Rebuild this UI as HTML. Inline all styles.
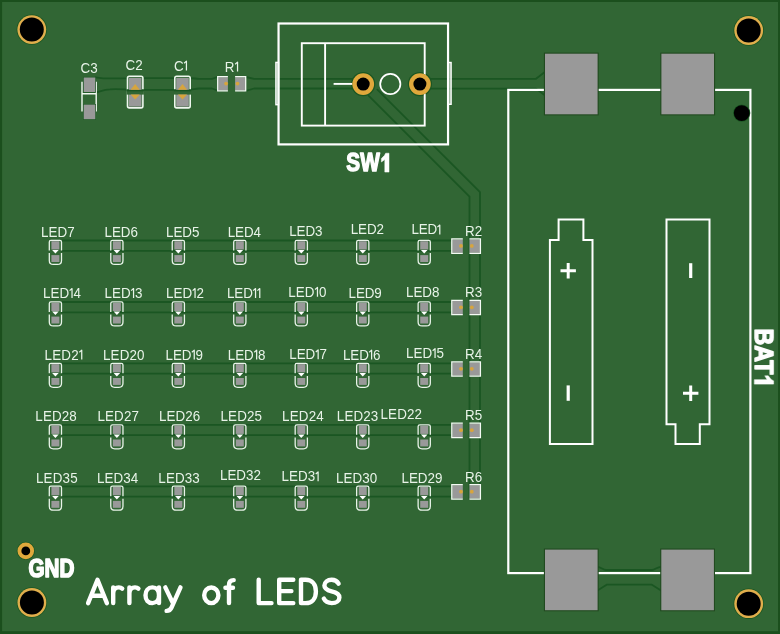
<!DOCTYPE html>
<html><head><meta charset="utf-8"><title>Array of LEDS PCB</title>
<style>
html,body{margin:0;padding:0;background:#1b4f1d;}
body{width:780px;height:634px;overflow:hidden;font-family:"Liberation Sans",sans-serif;}
svg{display:block;}
</style></head><body>
<svg width="780" height="634" viewBox="0 0 780 634">
<rect x="0" y="0" width="780" height="634" fill="#1b4f1d"/>
<rect x="2.1" y="2" width="775.9" height="629.2" fill="#316634"/>
<g fill="none" stroke="#1a5622" stroke-width="1.8" stroke-linecap="round" stroke-linejoin="round">
<path d="M95.5,77.3 C99,77.6 102,78.4 106,78.4 H127.5 M143,78.2 H174.5 M190.5,78.2 C194,78.2 196,78.8 199,78.8 H212 L217.5,77 M246,77 L254,78.8 H353"/>
<path d="M96.3,92.3 C100,91.5 104,89.6 110,89.3 C116,88.6 122,89.3 127.5,89.6 M143,89.8 H174.5 M190.5,89.6 C194,89.2 196,88.5 199,88.5 H212 L217.5,90.5 M246,90.8 L254,88.5 H353"/>
<path d="M430,78.8 H536 L544.5,72.3"/>
<path d="M430,88.6 H536 L544.5,95"/>
<path d="M368.8,95.9 L469.5,196.6 V499"/>
<path d="M377.4,89.6 L480.0,192.2 V499"/>
<path d="M597.5,566.8 C601,567 603,570 606,570 H652 C655,570 657,567 661,566.8"/>
<path d="M597.5,590.5 L607,584.6 H651.5 L661,590.5"/>
<path d="M62,240.5 H451.5"/>
<path d="M62,250.8 H451.5"/>
<path d="M62,302.0 H451.5"/>
<path d="M62,312.3 H451.5"/>
<path d="M62,363.4 H451.5"/>
<path d="M62,373.7 H451.5"/>
<path d="M62,424.9 H451.5"/>
<path d="M62,435.2 H451.5"/>
<path d="M62,486.3 H451.5"/>
<path d="M62,496.6 H451.5"/>
</g>
<circle cx="363.20" cy="84.10" r="12.10" fill="#1a5622"/>
<circle cx="419.90" cy="84.10" r="12.10" fill="#1a5622"/>
<g fill="none" stroke="#ffffff">
<rect x="278.55" y="23.5" width="169.5" height="120.9" stroke-width="2.2"/>
<rect x="301.8" y="43.2" width="122.9" height="82.4" stroke-width="1.9"/>
<path d="M325.1,43.2 V125.6" stroke-width="1.9"/>
<rect x="275.9" y="62.4" width="2.6" height="42.3" fill="#fff" fill-opacity="0.45" stroke-width="1.4"/>
<rect x="448.1" y="62.5" width="3.0" height="41.8" fill="#fff" fill-opacity="0.45" stroke-width="1.4"/>
<path d="M333.6,83.9 H354" stroke-width="1.9"/>
<circle cx="390.3" cy="84.0" r="10.1" stroke-width="1.7"/>
<rect x="508.3" y="89.9" width="242.1" height="483.2" stroke-width="2.2"/>
<path d="M558.6,219.4 H583.4 V240.1 H592.5 V444.1 H549.9 V240.1 H558.6 Z" stroke-width="2.0"/>
<path d="M666.5,219.4 H709.5 V424.2 H699.8 V444.1 H675.5 V424.2 H666.5 Z" stroke-width="2.0"/>
<path d="M560.5,270.8 H575.9 M568.2,263.1 V278.5" stroke-width="3"/>
<path d="M690.7,263.2 V278" stroke-width="3.2"/>
<path d="M568.2,385.4 V400.8" stroke-width="3.2"/>
<path d="M683,393.3 H698.4 M690.7,385.6 V401" stroke-width="3"/>
</g>
<path d="M49.30,250.40 V242.00 Q49.30,240.40 50.90,240.40 H59.90 Q61.50,240.40 61.50,242.00 V250.40" fill="none" stroke="#e9f4e9" stroke-width="1.3"/>
<path d="M49.30,253.00 V260.40 Q49.30,264.40 53.30,264.40 H57.50 Q61.50,264.40 61.50,260.40 V253.00" fill="none" stroke="#e9f4e9" stroke-width="1.3"/>
<rect x="51.40" y="241.20" width="8.0" height="8.3" fill="#999999"/>
<rect x="51.40" y="255.10" width="8.0" height="6.9" fill="#999999"/>
<path d="M52.10,250.10 H58.70 L55.40,253.60 Z" fill="#ffffff"/>
<path d="M110.77,250.40 V242.00 Q110.77,240.40 112.37,240.40 H121.37 Q122.97,240.40 122.97,242.00 V250.40" fill="none" stroke="#e9f4e9" stroke-width="1.3"/>
<path d="M110.77,253.00 V260.40 Q110.77,264.40 114.77,264.40 H118.97 Q122.97,264.40 122.97,260.40 V253.00" fill="none" stroke="#e9f4e9" stroke-width="1.3"/>
<rect x="112.87" y="241.20" width="8.0" height="8.3" fill="#999999"/>
<rect x="112.87" y="255.10" width="8.0" height="6.9" fill="#999999"/>
<path d="M113.57,250.10 H120.17 L116.87,253.60 Z" fill="#ffffff"/>
<path d="M172.24,250.40 V242.00 Q172.24,240.40 173.84,240.40 H182.84 Q184.44,240.40 184.44,242.00 V250.40" fill="none" stroke="#e9f4e9" stroke-width="1.3"/>
<path d="M172.24,253.00 V260.40 Q172.24,264.40 176.24,264.40 H180.44 Q184.44,264.40 184.44,260.40 V253.00" fill="none" stroke="#e9f4e9" stroke-width="1.3"/>
<rect x="174.34" y="241.20" width="8.0" height="8.3" fill="#999999"/>
<rect x="174.34" y="255.10" width="8.0" height="6.9" fill="#999999"/>
<path d="M175.04,250.10 H181.64 L178.34,253.60 Z" fill="#ffffff"/>
<path d="M233.71,250.40 V242.00 Q233.71,240.40 235.31,240.40 H244.31 Q245.91,240.40 245.91,242.00 V250.40" fill="none" stroke="#e9f4e9" stroke-width="1.3"/>
<path d="M233.71,253.00 V260.40 Q233.71,264.40 237.71,264.40 H241.91 Q245.91,264.40 245.91,260.40 V253.00" fill="none" stroke="#e9f4e9" stroke-width="1.3"/>
<rect x="235.81" y="241.20" width="8.0" height="8.3" fill="#999999"/>
<rect x="235.81" y="255.10" width="8.0" height="6.9" fill="#999999"/>
<path d="M236.51,250.10 H243.11 L239.81,253.60 Z" fill="#ffffff"/>
<path d="M295.18,250.40 V242.00 Q295.18,240.40 296.78,240.40 H305.78 Q307.38,240.40 307.38,242.00 V250.40" fill="none" stroke="#e9f4e9" stroke-width="1.3"/>
<path d="M295.18,253.00 V260.40 Q295.18,264.40 299.18,264.40 H303.38 Q307.38,264.40 307.38,260.40 V253.00" fill="none" stroke="#e9f4e9" stroke-width="1.3"/>
<rect x="297.28" y="241.20" width="8.0" height="8.3" fill="#999999"/>
<rect x="297.28" y="255.10" width="8.0" height="6.9" fill="#999999"/>
<path d="M297.98,250.10 H304.58 L301.28,253.60 Z" fill="#ffffff"/>
<path d="M356.65,250.40 V242.00 Q356.65,240.40 358.25,240.40 H367.25 Q368.85,240.40 368.85,242.00 V250.40" fill="none" stroke="#e9f4e9" stroke-width="1.3"/>
<path d="M356.65,253.00 V260.40 Q356.65,264.40 360.65,264.40 H364.85 Q368.85,264.40 368.85,260.40 V253.00" fill="none" stroke="#e9f4e9" stroke-width="1.3"/>
<rect x="358.75" y="241.20" width="8.0" height="8.3" fill="#999999"/>
<rect x="358.75" y="255.10" width="8.0" height="6.9" fill="#999999"/>
<path d="M359.45,250.10 H366.05 L362.75,253.60 Z" fill="#ffffff"/>
<path d="M418.12,250.40 V242.00 Q418.12,240.40 419.72,240.40 H428.72 Q430.32,240.40 430.32,242.00 V250.40" fill="none" stroke="#e9f4e9" stroke-width="1.3"/>
<path d="M418.12,253.00 V260.40 Q418.12,264.40 422.12,264.40 H426.32 Q430.32,264.40 430.32,260.40 V253.00" fill="none" stroke="#e9f4e9" stroke-width="1.3"/>
<rect x="420.22" y="241.20" width="8.0" height="8.3" fill="#999999"/>
<rect x="420.22" y="255.10" width="8.0" height="6.9" fill="#999999"/>
<path d="M420.92,250.10 H427.52 L424.22,253.60 Z" fill="#ffffff"/>
<path d="M49.30,311.90 V303.50 Q49.30,301.90 50.90,301.90 H59.90 Q61.50,301.90 61.50,303.50 V311.90" fill="none" stroke="#e9f4e9" stroke-width="1.3"/>
<path d="M49.30,314.50 V321.90 Q49.30,325.90 53.30,325.90 H57.50 Q61.50,325.90 61.50,321.90 V314.50" fill="none" stroke="#e9f4e9" stroke-width="1.3"/>
<rect x="51.40" y="302.70" width="8.0" height="8.3" fill="#999999"/>
<rect x="51.40" y="316.60" width="8.0" height="6.9" fill="#999999"/>
<path d="M52.10,311.60 H58.70 L55.40,315.10 Z" fill="#ffffff"/>
<path d="M110.77,311.90 V303.50 Q110.77,301.90 112.37,301.90 H121.37 Q122.97,301.90 122.97,303.50 V311.90" fill="none" stroke="#e9f4e9" stroke-width="1.3"/>
<path d="M110.77,314.50 V321.90 Q110.77,325.90 114.77,325.90 H118.97 Q122.97,325.90 122.97,321.90 V314.50" fill="none" stroke="#e9f4e9" stroke-width="1.3"/>
<rect x="112.87" y="302.70" width="8.0" height="8.3" fill="#999999"/>
<rect x="112.87" y="316.60" width="8.0" height="6.9" fill="#999999"/>
<path d="M113.57,311.60 H120.17 L116.87,315.10 Z" fill="#ffffff"/>
<path d="M172.24,311.90 V303.50 Q172.24,301.90 173.84,301.90 H182.84 Q184.44,301.90 184.44,303.50 V311.90" fill="none" stroke="#e9f4e9" stroke-width="1.3"/>
<path d="M172.24,314.50 V321.90 Q172.24,325.90 176.24,325.90 H180.44 Q184.44,325.90 184.44,321.90 V314.50" fill="none" stroke="#e9f4e9" stroke-width="1.3"/>
<rect x="174.34" y="302.70" width="8.0" height="8.3" fill="#999999"/>
<rect x="174.34" y="316.60" width="8.0" height="6.9" fill="#999999"/>
<path d="M175.04,311.60 H181.64 L178.34,315.10 Z" fill="#ffffff"/>
<path d="M233.71,311.90 V303.50 Q233.71,301.90 235.31,301.90 H244.31 Q245.91,301.90 245.91,303.50 V311.90" fill="none" stroke="#e9f4e9" stroke-width="1.3"/>
<path d="M233.71,314.50 V321.90 Q233.71,325.90 237.71,325.90 H241.91 Q245.91,325.90 245.91,321.90 V314.50" fill="none" stroke="#e9f4e9" stroke-width="1.3"/>
<rect x="235.81" y="302.70" width="8.0" height="8.3" fill="#999999"/>
<rect x="235.81" y="316.60" width="8.0" height="6.9" fill="#999999"/>
<path d="M236.51,311.60 H243.11 L239.81,315.10 Z" fill="#ffffff"/>
<path d="M295.18,311.90 V303.50 Q295.18,301.90 296.78,301.90 H305.78 Q307.38,301.90 307.38,303.50 V311.90" fill="none" stroke="#e9f4e9" stroke-width="1.3"/>
<path d="M295.18,314.50 V321.90 Q295.18,325.90 299.18,325.90 H303.38 Q307.38,325.90 307.38,321.90 V314.50" fill="none" stroke="#e9f4e9" stroke-width="1.3"/>
<rect x="297.28" y="302.70" width="8.0" height="8.3" fill="#999999"/>
<rect x="297.28" y="316.60" width="8.0" height="6.9" fill="#999999"/>
<path d="M297.98,311.60 H304.58 L301.28,315.10 Z" fill="#ffffff"/>
<path d="M356.65,311.90 V303.50 Q356.65,301.90 358.25,301.90 H367.25 Q368.85,301.90 368.85,303.50 V311.90" fill="none" stroke="#e9f4e9" stroke-width="1.3"/>
<path d="M356.65,314.50 V321.90 Q356.65,325.90 360.65,325.90 H364.85 Q368.85,325.90 368.85,321.90 V314.50" fill="none" stroke="#e9f4e9" stroke-width="1.3"/>
<rect x="358.75" y="302.70" width="8.0" height="8.3" fill="#999999"/>
<rect x="358.75" y="316.60" width="8.0" height="6.9" fill="#999999"/>
<path d="M359.45,311.60 H366.05 L362.75,315.10 Z" fill="#ffffff"/>
<path d="M418.12,311.90 V303.50 Q418.12,301.90 419.72,301.90 H428.72 Q430.32,301.90 430.32,303.50 V311.90" fill="none" stroke="#e9f4e9" stroke-width="1.3"/>
<path d="M418.12,314.50 V321.90 Q418.12,325.90 422.12,325.90 H426.32 Q430.32,325.90 430.32,321.90 V314.50" fill="none" stroke="#e9f4e9" stroke-width="1.3"/>
<rect x="420.22" y="302.70" width="8.0" height="8.3" fill="#999999"/>
<rect x="420.22" y="316.60" width="8.0" height="6.9" fill="#999999"/>
<path d="M420.92,311.60 H427.52 L424.22,315.10 Z" fill="#ffffff"/>
<path d="M49.30,373.30 V364.90 Q49.30,363.30 50.90,363.30 H59.90 Q61.50,363.30 61.50,364.90 V373.30" fill="none" stroke="#e9f4e9" stroke-width="1.3"/>
<path d="M49.30,375.90 V383.30 Q49.30,387.30 53.30,387.30 H57.50 Q61.50,387.30 61.50,383.30 V375.90" fill="none" stroke="#e9f4e9" stroke-width="1.3"/>
<rect x="51.40" y="364.10" width="8.0" height="8.3" fill="#999999"/>
<rect x="51.40" y="378.00" width="8.0" height="6.9" fill="#999999"/>
<path d="M52.10,373.00 H58.70 L55.40,376.50 Z" fill="#ffffff"/>
<path d="M110.77,373.30 V364.90 Q110.77,363.30 112.37,363.30 H121.37 Q122.97,363.30 122.97,364.90 V373.30" fill="none" stroke="#e9f4e9" stroke-width="1.3"/>
<path d="M110.77,375.90 V383.30 Q110.77,387.30 114.77,387.30 H118.97 Q122.97,387.30 122.97,383.30 V375.90" fill="none" stroke="#e9f4e9" stroke-width="1.3"/>
<rect x="112.87" y="364.10" width="8.0" height="8.3" fill="#999999"/>
<rect x="112.87" y="378.00" width="8.0" height="6.9" fill="#999999"/>
<path d="M113.57,373.00 H120.17 L116.87,376.50 Z" fill="#ffffff"/>
<path d="M172.24,373.30 V364.90 Q172.24,363.30 173.84,363.30 H182.84 Q184.44,363.30 184.44,364.90 V373.30" fill="none" stroke="#e9f4e9" stroke-width="1.3"/>
<path d="M172.24,375.90 V383.30 Q172.24,387.30 176.24,387.30 H180.44 Q184.44,387.30 184.44,383.30 V375.90" fill="none" stroke="#e9f4e9" stroke-width="1.3"/>
<rect x="174.34" y="364.10" width="8.0" height="8.3" fill="#999999"/>
<rect x="174.34" y="378.00" width="8.0" height="6.9" fill="#999999"/>
<path d="M175.04,373.00 H181.64 L178.34,376.50 Z" fill="#ffffff"/>
<path d="M233.71,373.30 V364.90 Q233.71,363.30 235.31,363.30 H244.31 Q245.91,363.30 245.91,364.90 V373.30" fill="none" stroke="#e9f4e9" stroke-width="1.3"/>
<path d="M233.71,375.90 V383.30 Q233.71,387.30 237.71,387.30 H241.91 Q245.91,387.30 245.91,383.30 V375.90" fill="none" stroke="#e9f4e9" stroke-width="1.3"/>
<rect x="235.81" y="364.10" width="8.0" height="8.3" fill="#999999"/>
<rect x="235.81" y="378.00" width="8.0" height="6.9" fill="#999999"/>
<path d="M236.51,373.00 H243.11 L239.81,376.50 Z" fill="#ffffff"/>
<path d="M295.18,373.30 V364.90 Q295.18,363.30 296.78,363.30 H305.78 Q307.38,363.30 307.38,364.90 V373.30" fill="none" stroke="#e9f4e9" stroke-width="1.3"/>
<path d="M295.18,375.90 V383.30 Q295.18,387.30 299.18,387.30 H303.38 Q307.38,387.30 307.38,383.30 V375.90" fill="none" stroke="#e9f4e9" stroke-width="1.3"/>
<rect x="297.28" y="364.10" width="8.0" height="8.3" fill="#999999"/>
<rect x="297.28" y="378.00" width="8.0" height="6.9" fill="#999999"/>
<path d="M297.98,373.00 H304.58 L301.28,376.50 Z" fill="#ffffff"/>
<path d="M356.65,373.30 V364.90 Q356.65,363.30 358.25,363.30 H367.25 Q368.85,363.30 368.85,364.90 V373.30" fill="none" stroke="#e9f4e9" stroke-width="1.3"/>
<path d="M356.65,375.90 V383.30 Q356.65,387.30 360.65,387.30 H364.85 Q368.85,387.30 368.85,383.30 V375.90" fill="none" stroke="#e9f4e9" stroke-width="1.3"/>
<rect x="358.75" y="364.10" width="8.0" height="8.3" fill="#999999"/>
<rect x="358.75" y="378.00" width="8.0" height="6.9" fill="#999999"/>
<path d="M359.45,373.00 H366.05 L362.75,376.50 Z" fill="#ffffff"/>
<path d="M418.12,373.30 V364.90 Q418.12,363.30 419.72,363.30 H428.72 Q430.32,363.30 430.32,364.90 V373.30" fill="none" stroke="#e9f4e9" stroke-width="1.3"/>
<path d="M418.12,375.90 V383.30 Q418.12,387.30 422.12,387.30 H426.32 Q430.32,387.30 430.32,383.30 V375.90" fill="none" stroke="#e9f4e9" stroke-width="1.3"/>
<rect x="420.22" y="364.10" width="8.0" height="8.3" fill="#999999"/>
<rect x="420.22" y="378.00" width="8.0" height="6.9" fill="#999999"/>
<path d="M420.92,373.00 H427.52 L424.22,376.50 Z" fill="#ffffff"/>
<path d="M49.30,434.80 V426.40 Q49.30,424.80 50.90,424.80 H59.90 Q61.50,424.80 61.50,426.40 V434.80" fill="none" stroke="#e9f4e9" stroke-width="1.3"/>
<path d="M49.30,437.40 V444.80 Q49.30,448.80 53.30,448.80 H57.50 Q61.50,448.80 61.50,444.80 V437.40" fill="none" stroke="#e9f4e9" stroke-width="1.3"/>
<rect x="51.40" y="425.60" width="8.0" height="8.3" fill="#999999"/>
<rect x="51.40" y="439.50" width="8.0" height="6.9" fill="#999999"/>
<path d="M52.10,434.50 H58.70 L55.40,438.00 Z" fill="#ffffff"/>
<path d="M110.77,434.80 V426.40 Q110.77,424.80 112.37,424.80 H121.37 Q122.97,424.80 122.97,426.40 V434.80" fill="none" stroke="#e9f4e9" stroke-width="1.3"/>
<path d="M110.77,437.40 V444.80 Q110.77,448.80 114.77,448.80 H118.97 Q122.97,448.80 122.97,444.80 V437.40" fill="none" stroke="#e9f4e9" stroke-width="1.3"/>
<rect x="112.87" y="425.60" width="8.0" height="8.3" fill="#999999"/>
<rect x="112.87" y="439.50" width="8.0" height="6.9" fill="#999999"/>
<path d="M113.57,434.50 H120.17 L116.87,438.00 Z" fill="#ffffff"/>
<path d="M172.24,434.80 V426.40 Q172.24,424.80 173.84,424.80 H182.84 Q184.44,424.80 184.44,426.40 V434.80" fill="none" stroke="#e9f4e9" stroke-width="1.3"/>
<path d="M172.24,437.40 V444.80 Q172.24,448.80 176.24,448.80 H180.44 Q184.44,448.80 184.44,444.80 V437.40" fill="none" stroke="#e9f4e9" stroke-width="1.3"/>
<rect x="174.34" y="425.60" width="8.0" height="8.3" fill="#999999"/>
<rect x="174.34" y="439.50" width="8.0" height="6.9" fill="#999999"/>
<path d="M175.04,434.50 H181.64 L178.34,438.00 Z" fill="#ffffff"/>
<path d="M233.71,434.80 V426.40 Q233.71,424.80 235.31,424.80 H244.31 Q245.91,424.80 245.91,426.40 V434.80" fill="none" stroke="#e9f4e9" stroke-width="1.3"/>
<path d="M233.71,437.40 V444.80 Q233.71,448.80 237.71,448.80 H241.91 Q245.91,448.80 245.91,444.80 V437.40" fill="none" stroke="#e9f4e9" stroke-width="1.3"/>
<rect x="235.81" y="425.60" width="8.0" height="8.3" fill="#999999"/>
<rect x="235.81" y="439.50" width="8.0" height="6.9" fill="#999999"/>
<path d="M236.51,434.50 H243.11 L239.81,438.00 Z" fill="#ffffff"/>
<path d="M295.18,434.80 V426.40 Q295.18,424.80 296.78,424.80 H305.78 Q307.38,424.80 307.38,426.40 V434.80" fill="none" stroke="#e9f4e9" stroke-width="1.3"/>
<path d="M295.18,437.40 V444.80 Q295.18,448.80 299.18,448.80 H303.38 Q307.38,448.80 307.38,444.80 V437.40" fill="none" stroke="#e9f4e9" stroke-width="1.3"/>
<rect x="297.28" y="425.60" width="8.0" height="8.3" fill="#999999"/>
<rect x="297.28" y="439.50" width="8.0" height="6.9" fill="#999999"/>
<path d="M297.98,434.50 H304.58 L301.28,438.00 Z" fill="#ffffff"/>
<path d="M356.65,434.80 V426.40 Q356.65,424.80 358.25,424.80 H367.25 Q368.85,424.80 368.85,426.40 V434.80" fill="none" stroke="#e9f4e9" stroke-width="1.3"/>
<path d="M356.65,437.40 V444.80 Q356.65,448.80 360.65,448.80 H364.85 Q368.85,448.80 368.85,444.80 V437.40" fill="none" stroke="#e9f4e9" stroke-width="1.3"/>
<rect x="358.75" y="425.60" width="8.0" height="8.3" fill="#999999"/>
<rect x="358.75" y="439.50" width="8.0" height="6.9" fill="#999999"/>
<path d="M359.45,434.50 H366.05 L362.75,438.00 Z" fill="#ffffff"/>
<path d="M418.12,434.80 V426.40 Q418.12,424.80 419.72,424.80 H428.72 Q430.32,424.80 430.32,426.40 V434.80" fill="none" stroke="#e9f4e9" stroke-width="1.3"/>
<path d="M418.12,437.40 V444.80 Q418.12,448.80 422.12,448.80 H426.32 Q430.32,448.80 430.32,444.80 V437.40" fill="none" stroke="#e9f4e9" stroke-width="1.3"/>
<rect x="420.22" y="425.60" width="8.0" height="8.3" fill="#999999"/>
<rect x="420.22" y="439.50" width="8.0" height="6.9" fill="#999999"/>
<path d="M420.92,434.50 H427.52 L424.22,438.00 Z" fill="#ffffff"/>
<path d="M49.30,496.20 V487.80 Q49.30,486.20 50.90,486.20 H59.90 Q61.50,486.20 61.50,487.80 V496.20" fill="none" stroke="#e9f4e9" stroke-width="1.3"/>
<path d="M49.30,498.80 V506.20 Q49.30,510.20 53.30,510.20 H57.50 Q61.50,510.20 61.50,506.20 V498.80" fill="none" stroke="#e9f4e9" stroke-width="1.3"/>
<rect x="51.40" y="487.00" width="8.0" height="8.3" fill="#999999"/>
<rect x="51.40" y="500.90" width="8.0" height="6.9" fill="#999999"/>
<path d="M52.10,495.90 H58.70 L55.40,499.40 Z" fill="#ffffff"/>
<path d="M110.77,496.20 V487.80 Q110.77,486.20 112.37,486.20 H121.37 Q122.97,486.20 122.97,487.80 V496.20" fill="none" stroke="#e9f4e9" stroke-width="1.3"/>
<path d="M110.77,498.80 V506.20 Q110.77,510.20 114.77,510.20 H118.97 Q122.97,510.20 122.97,506.20 V498.80" fill="none" stroke="#e9f4e9" stroke-width="1.3"/>
<rect x="112.87" y="487.00" width="8.0" height="8.3" fill="#999999"/>
<rect x="112.87" y="500.90" width="8.0" height="6.9" fill="#999999"/>
<path d="M113.57,495.90 H120.17 L116.87,499.40 Z" fill="#ffffff"/>
<path d="M172.24,496.20 V487.80 Q172.24,486.20 173.84,486.20 H182.84 Q184.44,486.20 184.44,487.80 V496.20" fill="none" stroke="#e9f4e9" stroke-width="1.3"/>
<path d="M172.24,498.80 V506.20 Q172.24,510.20 176.24,510.20 H180.44 Q184.44,510.20 184.44,506.20 V498.80" fill="none" stroke="#e9f4e9" stroke-width="1.3"/>
<rect x="174.34" y="487.00" width="8.0" height="8.3" fill="#999999"/>
<rect x="174.34" y="500.90" width="8.0" height="6.9" fill="#999999"/>
<path d="M175.04,495.90 H181.64 L178.34,499.40 Z" fill="#ffffff"/>
<path d="M233.71,496.20 V487.80 Q233.71,486.20 235.31,486.20 H244.31 Q245.91,486.20 245.91,487.80 V496.20" fill="none" stroke="#e9f4e9" stroke-width="1.3"/>
<path d="M233.71,498.80 V506.20 Q233.71,510.20 237.71,510.20 H241.91 Q245.91,510.20 245.91,506.20 V498.80" fill="none" stroke="#e9f4e9" stroke-width="1.3"/>
<rect x="235.81" y="487.00" width="8.0" height="8.3" fill="#999999"/>
<rect x="235.81" y="500.90" width="8.0" height="6.9" fill="#999999"/>
<path d="M236.51,495.90 H243.11 L239.81,499.40 Z" fill="#ffffff"/>
<path d="M295.18,496.20 V487.80 Q295.18,486.20 296.78,486.20 H305.78 Q307.38,486.20 307.38,487.80 V496.20" fill="none" stroke="#e9f4e9" stroke-width="1.3"/>
<path d="M295.18,498.80 V506.20 Q295.18,510.20 299.18,510.20 H303.38 Q307.38,510.20 307.38,506.20 V498.80" fill="none" stroke="#e9f4e9" stroke-width="1.3"/>
<rect x="297.28" y="487.00" width="8.0" height="8.3" fill="#999999"/>
<rect x="297.28" y="500.90" width="8.0" height="6.9" fill="#999999"/>
<path d="M297.98,495.90 H304.58 L301.28,499.40 Z" fill="#ffffff"/>
<path d="M356.65,496.20 V487.80 Q356.65,486.20 358.25,486.20 H367.25 Q368.85,486.20 368.85,487.80 V496.20" fill="none" stroke="#e9f4e9" stroke-width="1.3"/>
<path d="M356.65,498.80 V506.20 Q356.65,510.20 360.65,510.20 H364.85 Q368.85,510.20 368.85,506.20 V498.80" fill="none" stroke="#e9f4e9" stroke-width="1.3"/>
<rect x="358.75" y="487.00" width="8.0" height="8.3" fill="#999999"/>
<rect x="358.75" y="500.90" width="8.0" height="6.9" fill="#999999"/>
<path d="M359.45,495.90 H366.05 L362.75,499.40 Z" fill="#ffffff"/>
<path d="M418.12,496.20 V487.80 Q418.12,486.20 419.72,486.20 H428.72 Q430.32,486.20 430.32,487.80 V496.20" fill="none" stroke="#e9f4e9" stroke-width="1.3"/>
<path d="M418.12,498.80 V506.20 Q418.12,510.20 422.12,510.20 H426.32 Q430.32,510.20 430.32,506.20 V498.80" fill="none" stroke="#e9f4e9" stroke-width="1.3"/>
<rect x="420.22" y="487.00" width="8.0" height="8.3" fill="#999999"/>
<rect x="420.22" y="500.90" width="8.0" height="6.9" fill="#999999"/>
<path d="M420.92,495.90 H427.52 L424.22,499.40 Z" fill="#ffffff"/>
<rect x="452.30" y="239.40" width="10.50" height="13.40" fill="#999999"/>
<rect x="469.40" y="239.40" width="10.50" height="13.40" fill="#999999"/>
<path d="M462.80,238.90 H451.80 V253.30 H462.80" fill="none" stroke="#f4faf4" stroke-width="1.3"/>
<path d="M469.40,238.90 H480.40 V253.30 H469.40" fill="none" stroke="#f4faf4" stroke-width="1.3"/>
<circle cx="461.00" cy="245.90" r="1.9" fill="#d7a53d"/>
<circle cx="471.80" cy="245.90" r="1.9" fill="#d7a53d"/>
<rect x="452.30" y="300.80" width="10.50" height="13.40" fill="#999999"/>
<rect x="469.40" y="300.80" width="10.50" height="13.40" fill="#999999"/>
<path d="M462.80,300.30 H451.80 V314.70 H462.80" fill="none" stroke="#f4faf4" stroke-width="1.3"/>
<path d="M469.40,300.30 H480.40 V314.70 H469.40" fill="none" stroke="#f4faf4" stroke-width="1.3"/>
<circle cx="461.00" cy="307.30" r="1.9" fill="#d7a53d"/>
<circle cx="471.80" cy="307.30" r="1.9" fill="#d7a53d"/>
<rect x="452.30" y="362.30" width="10.50" height="13.40" fill="#999999"/>
<rect x="469.40" y="362.30" width="10.50" height="13.40" fill="#999999"/>
<path d="M462.80,361.80 H451.80 V376.20 H462.80" fill="none" stroke="#f4faf4" stroke-width="1.3"/>
<path d="M469.40,361.80 H480.40 V376.20 H469.40" fill="none" stroke="#f4faf4" stroke-width="1.3"/>
<circle cx="461.00" cy="368.80" r="1.9" fill="#d7a53d"/>
<circle cx="471.80" cy="368.80" r="1.9" fill="#d7a53d"/>
<rect x="452.30" y="423.70" width="10.50" height="13.40" fill="#999999"/>
<rect x="469.40" y="423.70" width="10.50" height="13.40" fill="#999999"/>
<path d="M462.80,423.20 H451.80 V437.60 H462.80" fill="none" stroke="#f4faf4" stroke-width="1.3"/>
<path d="M469.40,423.20 H480.40 V437.60 H469.40" fill="none" stroke="#f4faf4" stroke-width="1.3"/>
<circle cx="461.00" cy="430.20" r="1.9" fill="#d7a53d"/>
<circle cx="471.80" cy="430.20" r="1.9" fill="#d7a53d"/>
<rect x="452.30" y="485.20" width="10.50" height="13.40" fill="#999999"/>
<rect x="469.40" y="485.20" width="10.50" height="13.40" fill="#999999"/>
<path d="M462.80,484.70 H451.80 V499.10 H462.80" fill="none" stroke="#f4faf4" stroke-width="1.3"/>
<path d="M469.40,484.70 H480.40 V499.10 H469.40" fill="none" stroke="#f4faf4" stroke-width="1.3"/>
<circle cx="461.00" cy="491.70" r="1.9" fill="#d7a53d"/>
<circle cx="471.80" cy="491.70" r="1.9" fill="#d7a53d"/>
<rect x="218.20" y="77.20" width="9.70" height="13.20" fill="#999999"/>
<rect x="235.10" y="77.20" width="10.10" height="13.20" fill="#999999"/>
<path d="M227.90,76.70 H217.70 V90.90 H227.90" fill="none" stroke="#f4faf4" stroke-width="1.3"/>
<path d="M235.10,76.70 H245.70 V90.90 H235.10" fill="none" stroke="#f4faf4" stroke-width="1.3"/>
<circle cx="226.10" cy="83.60" r="1.9" fill="#d7a53d"/>
<circle cx="237.50" cy="83.60" r="1.9" fill="#d7a53d"/>
<rect x="127.50" y="76.3" width="15.4" height="31.6" rx="1.8" fill="none" stroke="#eef7ee" stroke-width="1.6"/>
<rect x="126.50" y="89.4" width="17.4" height="5.2" fill="#316634"/>
<path d="M126.50,90.4 H143.90" stroke="#1a5622" stroke-width="1.8"/>
<rect x="128.90" y="77.8" width="12.6" height="12.0" fill="#999999"/>
<rect x="128.90" y="94.6" width="12.6" height="12.0" fill="#999999"/>
<path d="M130.60,89.8 L135.20,84 L139.80,89.8 Z" fill="#d7a53d"/>
<path d="M130.60,94.6 L135.20,99.4 L139.80,94.6 Z" fill="#d7a53d"/>
<rect x="174.80" y="76.3" width="15.4" height="31.6" rx="1.8" fill="none" stroke="#eef7ee" stroke-width="1.6"/>
<rect x="173.80" y="89.4" width="17.4" height="5.2" fill="#316634"/>
<path d="M173.80,90.4 H191.20" stroke="#1a5622" stroke-width="1.8"/>
<rect x="176.20" y="77.8" width="12.6" height="12.0" fill="#999999"/>
<rect x="176.20" y="94.6" width="12.6" height="12.0" fill="#999999"/>
<path d="M177.90,89.8 L182.50,84 L187.10,89.8 Z" fill="#d7a53d"/>
<path d="M177.90,94.6 L182.50,99.4 L187.10,94.6 Z" fill="#d7a53d"/>
<path d="M82,81.8 V111.6 M96.2,81.8 V111.6 M82,93.7 H96.2" fill="none" stroke="#f2f9f2" stroke-width="1.4"/>
<rect x="83.10" y="76.90" width="12.80" height="15.70" fill="#1a5622"/>
<rect x="83.70" y="77.50" width="11.60" height="14.50" fill="#999999"/>
<rect x="83.10" y="104.00" width="12.80" height="15.80" fill="#1a5622"/>
<rect x="83.70" y="104.60" width="11.60" height="14.60" fill="#999999"/>
<rect x="543.90" y="52.60" width="54.80" height="62.80" fill="#214a20"/>
<rect x="545.00" y="53.70" width="52.6" height="60.6" fill="#999999"/>
<rect x="660.30" y="52.60" width="54.80" height="62.80" fill="#214a20"/>
<rect x="661.40" y="53.70" width="52.6" height="60.6" fill="#999999"/>
<rect x="543.90" y="548.50" width="54.80" height="62.80" fill="#214a20"/>
<rect x="545.00" y="549.60" width="52.6" height="60.6" fill="#999999"/>
<rect x="660.20" y="548.50" width="54.80" height="62.80" fill="#214a20"/>
<rect x="661.30" y="549.60" width="52.6" height="60.6" fill="#999999"/>
<circle cx="31.80" cy="29.60" r="15.20" fill="#1a5622"/>
<circle cx="31.80" cy="29.60" r="14.40" fill="#e0ae4c"/>
<circle cx="31.80" cy="29.60" r="12.00" fill="#000"/>
<circle cx="748.70" cy="30.50" r="15.20" fill="#1a5622"/>
<circle cx="748.70" cy="30.50" r="14.40" fill="#e0ae4c"/>
<circle cx="748.70" cy="30.50" r="12.00" fill="#000"/>
<circle cx="31.90" cy="602.50" r="15.20" fill="#1a5622"/>
<circle cx="31.90" cy="602.50" r="14.40" fill="#e0ae4c"/>
<circle cx="31.90" cy="602.50" r="12.00" fill="#000"/>
<circle cx="748.70" cy="603.70" r="15.20" fill="#1a5622"/>
<circle cx="748.70" cy="603.70" r="14.40" fill="#e0ae4c"/>
<circle cx="748.70" cy="603.70" r="12.00" fill="#000"/>
<circle cx="741.7" cy="113.1" r="8.6" fill="#1a5622"/>
<circle cx="741.7" cy="113.1" r="7.9" fill="#000"/>
<circle cx="363.20" cy="84.10" r="10.90" fill="#1a5622"/>
<circle cx="363.20" cy="84.10" r="10.90" fill="#e0a83c"/>
<circle cx="363.20" cy="84.10" r="6.50" fill="#000"/>
<circle cx="419.90" cy="84.10" r="10.90" fill="#1a5622"/>
<circle cx="419.90" cy="84.10" r="10.90" fill="#e0a83c"/>
<circle cx="419.90" cy="84.10" r="6.50" fill="#000"/>
<circle cx="25.80" cy="550.90" r="9.10" fill="#1a5622"/>
<circle cx="25.80" cy="550.90" r="8.30" fill="#e0a83c"/>
<circle cx="25.80" cy="550.90" r="4.40" fill="#000"/>
<g opacity="0.999" font-family="'Liberation Sans', sans-serif" font-size="13.4" fill="#e9f4e9">
<text transform="translate(0,236.50) scale(1,1.050)" x="40.89 48.40 57.43 67.19" y="0" xml:space="preserve">LED7</text>
<text transform="translate(0,236.50) scale(1,1.050)" x="104.60 111.98 120.84 130.42" y="0" xml:space="preserve">LED6</text>
<text transform="translate(0,236.50) scale(1,1.050)" x="166.10 173.48 182.34 191.92" y="0" xml:space="preserve">LED5</text>
<text transform="translate(0,236.50) scale(1,1.050)" x="227.70 235.08 243.94 253.52" y="0" xml:space="preserve">LED4</text>
<text transform="translate(0,235.60) scale(1,1.050)" x="289.20 296.58 305.44 315.02" y="0" xml:space="preserve">LED3</text>
<text transform="translate(0,234.40) scale(1,1.050)" x="350.70 358.08 366.94 376.52" y="0" xml:space="preserve">LED2</text>
<text transform="translate(0,234.40) scale(1,1.050)" x="411.42 418.70 427.44" y="0" xml:space="preserve">LED</text>
<path d="M437.39,227.15 L439.79,225.05 V234.40" fill="none" stroke="#e9f4e9" stroke-width="1.25" stroke-linejoin="round"/>
<text transform="translate(0,235.50) scale(1,1.050)" x="465.09 474.82" y="0" xml:space="preserve">R2</text>
<text transform="translate(0,297.90) scale(1,1.050)" x="42.99 50.46 59.43 69.13 73.43" y="0" xml:space="preserve">LED 4</text>
<path d="M69.63,290.65 L72.03,288.55 V297.90" fill="none" stroke="#e9f4e9" stroke-width="1.25" stroke-linejoin="round"/>
<text transform="translate(0,297.90) scale(1,1.050)" x="104.59 112.05 120.99 130.66 134.95" y="0" xml:space="preserve">LED 3</text>
<path d="M131.16,290.65 L133.56,288.55 V297.90" fill="none" stroke="#e9f4e9" stroke-width="1.25" stroke-linejoin="round"/>
<text transform="translate(0,297.90) scale(1,1.050)" x="166.09 173.55 182.49 192.16 196.45" y="0" xml:space="preserve">LED 2</text>
<path d="M192.66,290.65 L195.06,288.55 V297.90" fill="none" stroke="#e9f4e9" stroke-width="1.25" stroke-linejoin="round"/>
<text transform="translate(0,297.90) scale(1,1.050)" x="227.01 234.34 243.13" y="0" xml:space="preserve">LED</text>
<path d="M253.15,290.65 L255.55,288.55 V297.90" fill="none" stroke="#e9f4e9" stroke-width="1.25" stroke-linejoin="round"/>
<path d="M257.37,290.65 L259.77,288.55 V297.90" fill="none" stroke="#e9f4e9" stroke-width="1.25" stroke-linejoin="round"/>
<text transform="translate(0,296.70) scale(1,1.050)" x="288.29 295.80 304.81 314.57 318.89" y="0" xml:space="preserve">LED 0</text>
<path d="M315.07,289.45 L317.47,287.35 V296.70" fill="none" stroke="#e9f4e9" stroke-width="1.25" stroke-linejoin="round"/>
<text transform="translate(0,297.90) scale(1,1.050)" x="348.61 355.92 364.69 374.18" y="0" xml:space="preserve">LED9</text>
<text transform="translate(0,297.00) scale(1,1.050)" x="406.10 413.48 422.34 431.92" y="0" xml:space="preserve">LED8</text>
<text transform="translate(0,296.90) scale(1,1.050)" x="465.09 474.82" y="0" xml:space="preserve">R3</text>
<text transform="translate(0,359.50) scale(1,1.050)" x="44.57 52.19 61.33 71.22" y="0" xml:space="preserve">LED2</text>
<path d="M79.34,352.25 L81.74,350.15 V359.50" fill="none" stroke="#e9f4e9" stroke-width="1.25" stroke-linejoin="round"/>
<text transform="translate(0,359.50) scale(1,1.050)" x="102.98 110.55 119.64 129.47 137.04" y="0" xml:space="preserve">LED20</text>
<text transform="translate(0,359.50) scale(1,1.050)" x="165.50 172.89 181.76 191.35 195.61" y="0" xml:space="preserve">LED 9</text>
<path d="M191.85,352.25 L194.25,350.15 V359.50" fill="none" stroke="#e9f4e9" stroke-width="1.25" stroke-linejoin="round"/>
<text transform="translate(0,359.50) scale(1,1.050)" x="227.69 235.15 244.09 253.76 258.05" y="0" xml:space="preserve">LED 8</text>
<path d="M254.26,352.25 L256.66,350.15 V359.50" fill="none" stroke="#e9f4e9" stroke-width="1.25" stroke-linejoin="round"/>
<text transform="translate(0,359.30) scale(1,1.050)" x="289.19 296.65 305.59 315.26 319.55" y="0" xml:space="preserve">LED 7</text>
<path d="M315.76,352.05 L318.16,349.95 V359.30" fill="none" stroke="#e9f4e9" stroke-width="1.25" stroke-linejoin="round"/>
<text transform="translate(0,359.50) scale(1,1.050)" x="343.01 350.36 359.17 368.72 372.95" y="0" xml:space="preserve">LED 6</text>
<path d="M369.22,352.25 L371.62,350.15 V359.50" fill="none" stroke="#e9f4e9" stroke-width="1.25" stroke-linejoin="round"/>
<text transform="translate(0,358.00) scale(1,1.050)" x="406.09 413.55 422.49 432.16 436.45" y="0" xml:space="preserve">LED 5</text>
<path d="M432.66,350.75 L435.06,348.65 V358.00" fill="none" stroke="#e9f4e9" stroke-width="1.25" stroke-linejoin="round"/>
<text transform="translate(0,358.50) scale(1,1.050)" x="465.09 474.82" y="0" xml:space="preserve">R4</text>
<text transform="translate(0,420.90) scale(1,1.050)" x="35.38 42.93 52.00 61.80 69.36" y="0" xml:space="preserve">LED28</text>
<text transform="translate(0,420.90) scale(1,1.050)" x="97.48 105.03 114.10 123.90 131.46" y="0" xml:space="preserve">LED27</text>
<text transform="translate(0,420.90) scale(1,1.050)" x="158.99 166.50 175.52 185.28 192.79" y="0" xml:space="preserve">LED26</text>
<text transform="translate(0,420.90) scale(1,1.050)" x="220.58 228.13 237.20 247.00 254.56" y="0" xml:space="preserve">LED25</text>
<text transform="translate(0,420.90) scale(1,1.050)" x="282.07 289.68 298.81 308.70 316.31" y="0" xml:space="preserve">LED24</text>
<text transform="translate(0,420.90) scale(1,1.050)" x="336.88 344.43 353.50 363.30 370.86" y="0" xml:space="preserve">LED23</text>
<text transform="translate(0,419.40) scale(1,1.050)" x="380.58 388.13 397.20 407.00 414.56" y="0" xml:space="preserve">LED22</text>
<text transform="translate(0,419.90) scale(1,1.050)" x="465.09 474.82" y="0" xml:space="preserve">R5</text>
<text transform="translate(0,482.50) scale(1,1.050)" x="35.97 43.58 52.71 62.60 70.21" y="0" xml:space="preserve">LED35</text>
<text transform="translate(0,482.50) scale(1,1.050)" x="96.88 104.43 113.50 123.30 130.86" y="0" xml:space="preserve">LED34</text>
<text transform="translate(0,482.50) scale(1,1.050)" x="158.38 165.93 175.00 184.80 192.36" y="0" xml:space="preserve">LED33</text>
<text transform="translate(0,480.10) scale(1,1.050)" x="220.00 227.44 236.36 246.02 253.46" y="0" xml:space="preserve">LED32</text>
<text transform="translate(0,481.30) scale(1,1.050)" x="281.49 288.98 297.97 307.70" y="0" xml:space="preserve">LED3</text>
<path d="M315.70,474.05 L318.10,471.95 V481.30" fill="none" stroke="#e9f4e9" stroke-width="1.25" stroke-linejoin="round"/>
<text transform="translate(0,482.50) scale(1,1.050)" x="335.99 343.49 352.48 362.21 369.71" y="0" xml:space="preserve">LED30</text>
<text transform="translate(0,482.50) scale(1,1.050)" x="401.50 408.94 417.86 427.52 434.96" y="0" xml:space="preserve">LED29</text>
<text transform="translate(0,481.50) scale(1,1.050)" x="465.09 474.82" y="0" xml:space="preserve">R6</text>
<text transform="translate(0,73.00) scale(1,1.050)" x="80.50 90.16" y="0" xml:space="preserve">C3</text>
<text transform="translate(0,70.00) scale(1,1.050)" x="125.48 135.33" y="0" xml:space="preserve">C2</text>
<text transform="translate(0,70.50) scale(1,1.050)" x="173.90" y="0" xml:space="preserve">C</text>
<path d="M184.03,63.25 L186.43,61.15 V70.50" fill="none" stroke="#e9f4e9" stroke-width="1.25" stroke-linejoin="round"/>
<text transform="translate(0,71.50) scale(1,1.050)" x="224.77" y="0" xml:space="preserve">R</text>
<path d="M235.15,64.25 L237.55,62.15 V71.50" fill="none" stroke="#e9f4e9" stroke-width="1.25" stroke-linejoin="round"/>
</g>
<g opacity="0.999">
<text transform="translate(346.33,171.40) scale(1.0348,1.2746)" font-size="20.0" stroke-width="1.13" font-family="'Liberation Sans', sans-serif" font-weight="bold" fill="#fff" stroke="#fff" stroke-linejoin="round">SW</text>
<polygon points="389.00,153.20 385.70,153.20 384.40,155.60 381.40,158.50 381.40,162.00 384.80,159.60 384.80,172.10 389.00,172.10" fill="#fff" stroke="#fff" stroke-width="0.5" stroke-linejoin="round"/>
<text transform="translate(28.42,577.09) scale(1.0327,1.2958)" font-size="20.0" stroke-width="1.29" font-family="'Liberation Sans', sans-serif" font-weight="bold" fill="#fff" stroke="#fff" stroke-linejoin="round">GND</text>
<g transform="translate(754.1,0) rotate(90)">
<text transform="translate(328.53,-0.65) scale(1.1605,1.3333)" font-size="20.0" stroke-width="1.04" font-family="'Liberation Sans', sans-serif" font-weight="bold" fill="#fff" stroke="#fff" stroke-linejoin="round">BAT</text>
<polygon points="384.10,-19.50 380.80,-19.50 379.50,-17.10 375.80,-14.20 375.80,-10.70 379.70,-13.10 379.70,-0.20 384.10,-0.20" fill="#fff" stroke="#fff" stroke-width="0.5" stroke-linejoin="round"/>
</g>
</g>
<g fill="none" stroke="#fff" stroke-width="4.4" stroke-linecap="round" stroke-linejoin="round">
<path d="M88.1,603.1 L97.5,579.8 L106.9,603.1 M91.6,595.8 H103.4"/>
<path d="M113.2,587.4 V603.1 M113.2,593.4 C113.2,589.8 115.8,587.4 118.8,587.4 C120.2,587.4 121.4,587.8 122.2,588.6"/>
<path d="M129.4,587.4 V603.1 M129.4,593.4 C129.4,589.8 132.0,587.4 135.0,587.4 C136.4,587.4 137.6,587.8 138.4,588.6"/>
<path d="M159,587.4 V603.1 M159,595.2 C159,590.5 156.4,587.4 152.4,587.4 C148.2,587.4 145.5,590.6 145.5,595.2 C145.5,600.0 148.2,603.1 152.4,603.1 C156.4,603.1 159,600.0 159,595.2"/>
<path d="M165.3,587.4 L172.9,603.1 M180.5,587.4 L171.6,607.4 C170.6,609.8 169,610.9 166.6,610.9"/>
<ellipse cx="211.3" cy="595.3" rx="7.1" ry="7.8"/>
<path d="M229.0,603.1 V585 C229.0,581.8 230.6,580.1 233.7,580.1 M225.4,587.8 H233.0"/>
<path d="M258.7,579.8 V603.1 H271.5"/>
<path d="M293.3,579.8 H279.2 V603.1 H293.3 M279.2,591.1 H291.4"/>
<path d="M301.0,579.8 V603.1 H305.6 C312.0,603.1 315.9,598.6 315.9,591.4 C315.9,584.2 312.0,579.8 305.6,579.8 Z"/>
<path d="M338.6,583.6 C337.2,581.2 334.8,579.8 331.6,579.8 C327.6,579.8 324.4,582.2 324.4,585.6 C324.4,589.2 327.4,590.4 331.6,591.4 C336,592.4 339.4,593.6 339.4,597.4 C339.4,600.8 336.2,603.1 331.8,603.1 C328.2,603.1 325.2,601.4 323.8,598.6"/>
</g>
</svg>
</body></html>
